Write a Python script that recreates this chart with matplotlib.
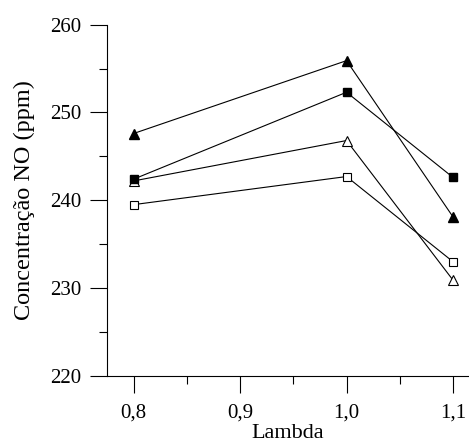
import numpy as np
import matplotlib
matplotlib.use('Agg')
import matplotlib.pyplot as plt
from matplotlib.ticker import MultipleLocator

plt.rcParams['font.family'] = ['Liberation Serif', 'DejaVu Serif']

# Data
lambda_vals = [0.8, 1.0, 1.1]
tri_filled = [247.6, 255.9, 238.1]
sq_filled = [242.4, 252.3, 242.6]
tri_open = [242.2, 246.8, 230.9]
sq_open = [239.5, 242.7, 233.0]

fig = plt.figure(figsize=(4.69, 4.48), dpi=100)
ax = fig.add_axes([0.228, 0.161, 0.772, 0.784])

lw = 0.8
ax.plot(lambda_vals, sq_open, '-s', color='black', lw=lw, ms=6,
        mfc='white', mec='black', mew=0.8)
ax.plot(lambda_vals, tri_open, '-^', color='black', lw=lw, ms=7.5,
        mfc='white', mec='black', mew=0.8)
ax.plot(lambda_vals, sq_filled, '-s', color='black', lw=lw, ms=6,
        mfc='black', mec='black')
ax.plot(lambda_vals, tri_filled, '-^', color='black', lw=lw, ms=7.5,
        mfc='black', mec='black')

ax.set_xlim(0.775, 1.115)
ax.set_ylim(220, 260)
ax.set_xticks([0.8, 0.9, 1.0, 1.1])
ax.set_xticklabels(['0,8', '0,9', '1,0', '1,1'])
ax.xaxis.set_minor_locator(MultipleLocator(0.05))
ax.set_yticks([220, 230, 240, 250, 260])
ax.yaxis.set_minor_locator(MultipleLocator(5))

ax.tick_params(which='major', direction='out', length=12.2, width=0.8,
               labelsize=15, pad=6)
ax.tick_params(axis='x', which='major', pad=8)
ax.tick_params(which='minor', direction='out', length=6, width=0.8)

for s in ['top', 'right']:
    ax.spines[s].set_visible(False)
for s in ['left', 'bottom']:
    ax.spines[s].set_linewidth(0.8)

ax.set_xlabel('Lambda', fontsize=16, labelpad=1)
ax.set_ylabel('Concentração NO (ppm)', fontsize=17.5, labelpad=11)

fig.savefig('out.png', dpi=100)
